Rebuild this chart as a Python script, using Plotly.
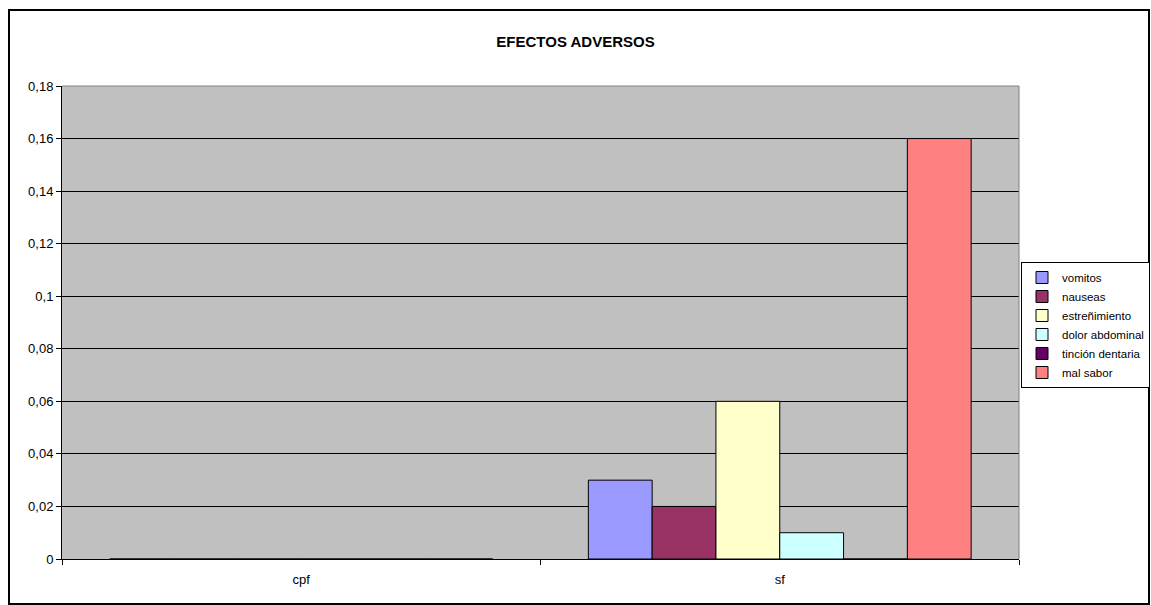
import plotly.graph_objects as go

categories = ["cpf", "sf"]
series_names = ["vomitos", "nauseas", "estreñimiento", "dolor abdominal", "tinción dentaria", "mal sabor"]
vomitos = [0, 0.03]
nauseas = [0, 0.02]
estrenimiento = [0, 0.06]
dolor_abdominal = [0, 0.01]
tincion_dentaria = [0, 0]
mal_sabor = [0, 0.16]
series_values = [vomitos, nauseas, estrenimiento, dolor_abdominal, tincion_dentaria, mal_sabor]
colors = ["#9999FF", "#993366", "#FFFFCC", "#CCFFFF", "#660066", "#FF8080"]
y_tickvals = [0, 0.02, 0.04, 0.06, 0.08, 0.1, 0.12, 0.14, 0.16, 0.18]
y_ticktext = ["0", "0,02", "0,04", "0,06", "0,08", "0,1", "0,12", "0,14", "0,16", "0,18"]

W, H = 1151, 605
L, R, T, B = 62, 1019, 86, 559
pw, ph = R - L, B - T

def px(x):
    return (x - L) / pw

def py(y):
    return (B - y) / ph

fig = go.Figure()
for name, vals, col in zip(series_names, series_values, colors):
    fig.add_trace(go.Bar(x=categories, y=vals, name=name,
                         marker=dict(color=col, line=dict(color="black", width=1))))

font = "Liberation Sans, Arial, sans-serif"
fig.update_layout(
    width=W, height=H,
    margin=dict(l=L, r=W - R, t=T, b=H - B, autoexpand=False),
    paper_bgcolor="white",
    plot_bgcolor="#C0C0C0",
    barmode="group", bargap=0.2, bargroupgap=0,
    font=dict(family=font, size=13, color="black"),
    title=dict(text="<b>EFECTOS ADVERSOS</b>", x=0.5, xref="container",
               y=1 - 42 / H, yanchor="middle",
               font=dict(family=font, size=15, color="black")),
    legend=dict(x=px(1021), y=py(262), xanchor="left", yanchor="top",
                bordercolor="black", borderwidth=1, bgcolor="white",
                font=dict(family=font, size=11.5, color="black"),
                itemwidth=30, tracegroupgap=0),
    xaxis=dict(showline=True, linecolor="black", linewidth=1,
               ticks="outside", ticklen=5, tickcolor="black", tickson="boundaries",
               ticklabelstandoff=8,
               showgrid=False, tickfont=dict(size=13)),
    yaxis=dict(range=[0, 0.18], tickvals=y_tickvals, ticktext=y_ticktext,
               showline=True, linecolor="black", linewidth=1,
               ticks="outside", ticklen=5, tickcolor="black",
               showgrid=True, gridcolor="black", gridwidth=1,
               zeroline=False, tickfont=dict(size=13)),
    shapes=[
        dict(type="line", xref="paper", yref="paper", x0=0, x1=1, y0=1, y1=1,
             line=dict(color="#808080", width=1), layer="above"),
        dict(type="line", xref="paper", yref="paper", x0=1, x1=1, y0=0, y1=1,
             line=dict(color="#808080", width=1), layer="above"),
        dict(type="rect", xref="paper", yref="paper",
             x0=px(9), x1=px(1149), y0=py(10), y1=py(604),
             line=dict(color="black", width=2), fillcolor="rgba(0,0,0,0)", layer="above"),
    ],
)

fig.write_html("out.html")
